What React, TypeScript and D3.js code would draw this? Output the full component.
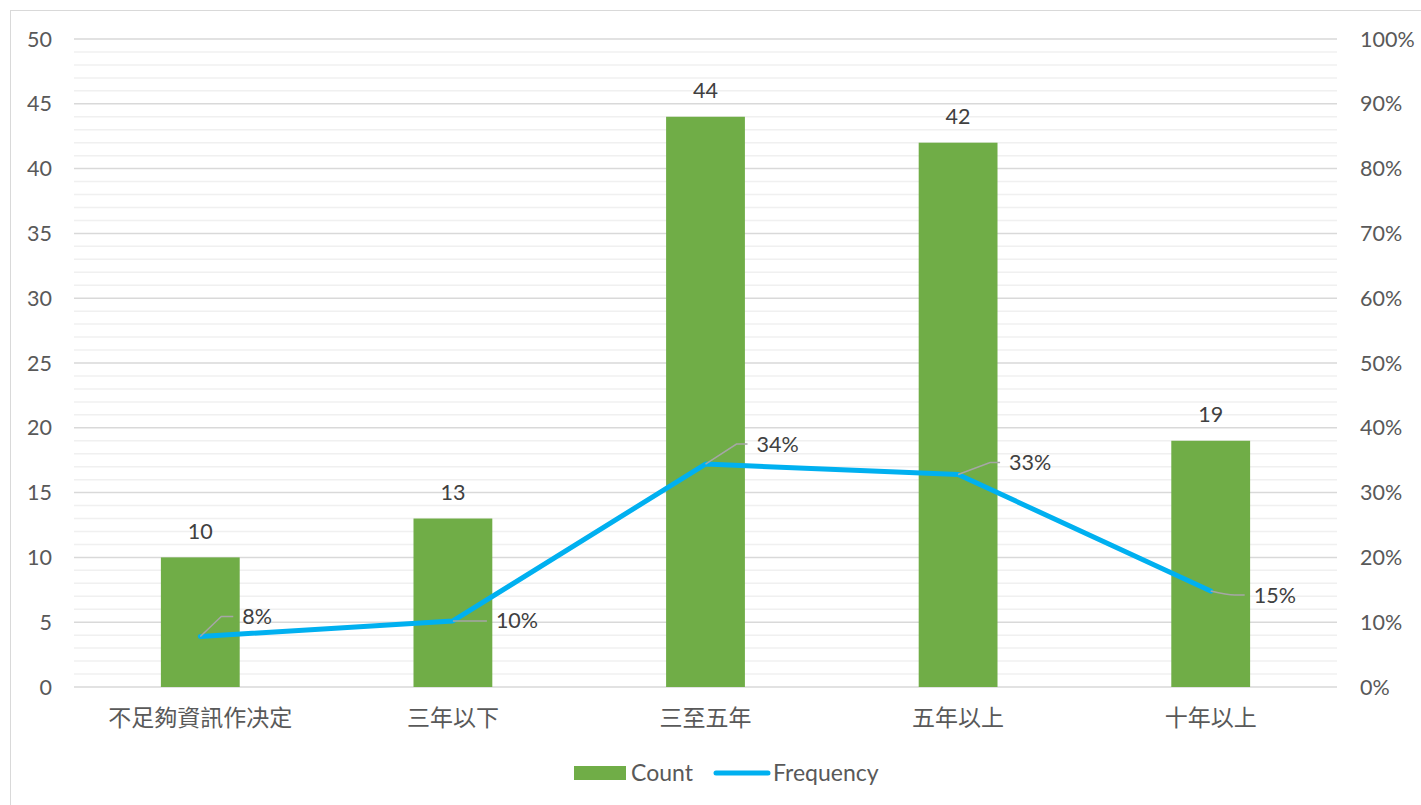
import React from "react";
import * as d3 from "d3";

const categories = ["不足夠資訊作决定", "三年以下", "三至五年", "五年以上", "十年以上"];
const counts = [10, 13, 44, 42, 19];
const frequencies = [0.078, 0.102, 0.344, 0.328, 0.148];
const leftTicks = [0, 5, 10, 15, 20, 25, 30, 35, 40, 45, 50];
const rightTicks = [0, 0.1, 0.2, 0.3, 0.4, 0.5, 0.6, 0.7, 0.8, 0.9, 1.0];

// label placement styles (leader line geometry)
const labelStyles = [
  { kind: "diag", dx: 21, dy: -20, h: 12 },
  { kind: "flat", dx: 0, dy: 0, h: 34 },
  { kind: "diag", dx: 31, dy: -20, h: 11 },
  { kind: "diag", dx: 32, dy: -12, h: 10 },
  { kind: "curve", dx: 24, dy: 4, h: 10 },
];

const W = 1421, H = 805;
const left = 74, right = 1337, top = 39, bottom = 687;
const latin = "Lato, 'Noto Sans', sans-serif";
const cjk = "'Noto Sans CJK TC', 'Noto Sans CJK SC', sans-serif";
const FS = 21.5;

export default function App() {
  const x = d3.scaleBand<string>().domain(categories).range([left, right]).paddingInner(0).paddingOuter(0);
  const yL = d3.scaleLinear().domain([0, 50]).range([bottom, top]);
  const yR = d3.scaleLinear().domain([0, 1]).range([bottom, top]);
  const bw = x.bandwidth() * 0.312;
  const cx = (c: string) => (x(c) as number) + x.bandwidth() / 2;
  const minor = d3.range(0, 51, 1).filter((v) => v % 5 !== 0);
  const line = d3.line<number>().x((_, i) => cx(categories[i])).y((d) => yR(d));

  return (
    <div style={{ position: "absolute", left: 0, top: 0 }}>
      <svg width={W} height={H} style={{ display: "block", background: "#fff" }}>
        <rect x={10.5} y={10.5} width={W + 10} height={H + 10} fill="#fff" stroke="#d9d9d9" strokeWidth={1} />
        {minor.map((v) => (
          <line key={"m" + v} x1={left} x2={right} y1={yL(v)} y2={yL(v)} stroke="#f0f0f0" strokeWidth={1.5} />
        ))}
        {leftTicks.map((v) => (
          <line key={"g" + v} x1={left} x2={right} y1={yL(v)} y2={yL(v)} stroke="#d9d9d9" strokeWidth={1.5} />
        ))}
        {leftTicks.map((v) => (
          <text key={"l" + v} x={52} y={yL(v)} dy="0.35em" textAnchor="end" fontFamily={latin} fontSize={FS} fill="#595959">
            {v}
          </text>
        ))}
        {rightTicks.map((v) => (
          <text key={"r" + v} x={1360} y={yR(v)} dy="0.35em" textAnchor="start" fontFamily={latin} fontSize={FS} fill="#595959">
            {d3.format(".0%")(v)}
          </text>
        ))}
        {categories.map((c, i) => (
          <g key={c}>
            <rect x={cx(c) - bw / 2} y={yL(counts[i])} width={bw} height={yL(0) - yL(counts[i])} fill="#70ad47" />
            <text x={cx(c)} y={yL(counts[i]) - 26} dy="0.35em" textAnchor="middle" fontFamily={latin} fontSize={FS} fill="#404040">
              {counts[i]}
            </text>
            <text x={cx(c)} y={718} dy="0.35em" textAnchor="middle" fontFamily={cjk} fontSize={23} fill="#595959">
              {c}
            </text>
          </g>
        ))}
        <path d={line(frequencies) || ""} fill="none" stroke="#00b0f0" strokeWidth={5} strokeLinejoin="round" strokeLinecap="round" />
        {frequencies.map((f, i) => {
          const px = cx(categories[i]);
          const py = yR(f);
          const s = labelStyles[i];
          const ex = px + s.dx, ey = py + s.dy;
          let d: string;
          if (s.kind === "curve") {
            d = `M${px},${py} Q${px + s.dx * 0.7},${ey} ${ex},${ey} L${ex + s.h},${ey}`;
          } else {
            d = `M${px},${py} L${ex},${ey} L${ex + s.h},${ey}`;
          }
          return (
            <g key={"f" + i}>
              <path d={d} fill="none" stroke="#a6a6a6" strokeWidth={1.5} />
              <text x={ex + s.h + 9} y={ey} dy="0.35em" fontFamily={latin} fontSize={FS} fill="#404040">
                {d3.format(".0%")(f)}
              </text>
            </g>
          );
        })}
        <g>
          <rect x={574} y={766} width={52} height={14} fill="#70ad47" />
          <text x={631} y={773} dy="0.35em" fontFamily={latin} fontSize={23} fill="#595959">Count</text>
          <line x1={716} x2={768} y1={773} y2={773} stroke="#00b0f0" strokeWidth={5} strokeLinecap="round" />
          <text x={773} y={773} dy="0.35em" fontFamily={latin} fontSize={23} fill="#595959">Frequency</text>
        </g>
      </svg>
    </div>
  );
}
